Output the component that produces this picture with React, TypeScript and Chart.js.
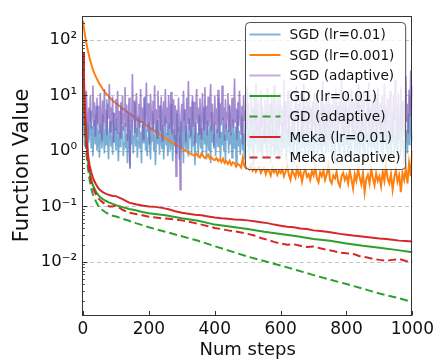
import React, { useEffect, useRef } from 'react';
import { Chart, registerables } from 'chart.js';

Chart.register(...registerables);

const FONT = '"DejaVu Sans", "Liberation Sans", sans-serif';

const seriesLabels = [
  'SGD (lr=0.01)',
  'SGD (lr=0.001)',
  'SGD (adaptive)',
  'GD (lr=0.01)',
  'GD (adaptive)',
  'Meka (lr=0.01)',
  'Meka (adaptive)',
];

// x positions (steps) for the smooth curves
const gdSteps = [0, 3, 6, 10, 15, 20, 25, 30, 40, 50, 60, 70, 80, 90, 100, 120, 140, 160, 180, 200, 250, 300, 350, 400, 450, 500, 550, 600, 650, 700, 750, 800, 850, 900, 950, 1000];
const mekaSteps = [0, 3, 6, 10, 15, 20, 25, 30, 35, 40, 45, 50, 60, 70, 80, 90, 100,
  120, 140, 160, 180, 200, 220, 240, 260, 280, 300, 320, 340, 360, 380, 400, 420, 440, 460, 480, 500,
  520, 540, 560, 580, 600, 620, 640, 660, 680, 700, 720, 740, 760, 780, 800, 820, 840, 860, 880, 900,
  920, 940, 960, 980, 1000];

// SGD (lr=0.01) — sampled evenly over 0..1000
const sgdLr1 = [
  7, 2.5, 1.2, 4, 1.6, 0.9, 3.2, 1.4, 2.2, 5.5, 1.1, 2.8, 0.8, 1.9, 3.6, 1.3, 6.5, 1.0, 2.4, 1.5,
  0.75, 3, 1.7, 1.1, 4.6, 2, 0.9, 2.6, 1.3, 8.5, 1.6, 0.7, 2.2, 3.4, 1.2, 1.8, 0.85, 5, 1.4, 2.5,
  1.0, 3.8, 1.5, 0.65, 2.1, 1.2, 6, 1.7, 2.8, 0.8, 1.4, 3.2, 1.1, 2, 0.6, 4.4, 1.6, 0.47, 2.4, 1.3,
  3.6, 0.9, 1.8, 7.5, 1.2, 2.6, 0.75, 1.5, 4, 1.1, 2.2, 0.6, 3, 1.4, 1.9, 9.5, 1.0, 2.4, 0.8, 1.7,
  3.3, 1.2, 0.7, 2.6, 1.5, 5.2, 1.0, 2, 0.55, 1.6, 3.6, 1.3, 2.3, 0.85, 6.6, 1.4, 1.1, 2.9, 0.7, 1.8,
  4.2, 1.3, 2.1, 0.8, 1.6, 3.1, 1.0, 7, 1.5, 0.65, 2.5, 1.2, 1.9, 0.9, 4.8, 1.4, 2.7, 0.7, 1.7, 3.4,
  1.1, 2.2, 0.6, 5.6, 1.5, 1.0, 2.9, 1.3, 0.8, 3.8, 1.7, 2.4, 0.9, 8, 1.2, 1.9, 0.55, 3.2, 1.4, 2.1,
  0.75, 4.4, 1.6, 1.1, 2.6, 0.85, 1.8, 6.2, 1.3, 2.3, 0.7, 3.5, 1.5, 1.0, 2.8, 0.6, 5, 1.4, 2, 1.1,
  3.2, 0.8, 1.7, 2.5, 1.2, 9, 1.5, 0.7, 2.2, 1.3, 4, 1.0, 1.9, 0.65, 3, 1.6, 2.4, 0.9, 6.4, 1.3,
  2.1, 0.75, 3.7, 1.4, 1.1, 2.7, 0.6, 1.8, 5.4, 1.2, 2.3, 0.85, 1.6, 4.2, 1.0, 2, 0.7, 3.3, 1.5, 7.2,
  1.2, 2.5, 0.8, 1.7, 3.9, 1.1, 2.2, 0.55, 1.5, 5.8, 1.3, 2.8, 0.9, 1.9, 3.2, 1.0, 8.4, 1.4, 0.7, 2.4,
  1.6, 4.6, 1.1, 2.1, 0.75, 3, 1.4, 1.8, 0.6, 6.8, 1.2, 2.6, 0.85, 1.7, 3.6, 1.0, 2.3, 0.7, 5.2, 1.5,
  2, 0.8, 1.3, 3.4, 1.1, 7.6, 1.6, 0.65, 2.5, 1.2, 4.4, 0.9, 1.9, 2.8, 1.0, 1.5, 0.6, 3.8, 1.4, 2.2,
  0.75, 5.6, 1.3, 2.4, 0.9, 1.7, 3.1, 1.1, 9.5, 1.5, 0.7, 2.1, 1.2, 4.2, 0.85, 1.8, 2.6, 1.0, 6, 1.4,
  1.9, 0.6, 3.3, 1.3, 2.2, 0.8, 1.6, 4.8, 1.1, 2.7, 0.7, 1.5, 7, 1.2, 2, 0.9, 3.6, 1.4, 1.0, 5.4,
  1.6, 2.3, 0.75, 1.8, 3.8, 1.1, 0.6, 2.5, 1.4, 6.4, 1.0, 2.1, 0.85, 1.5, 4, 1.2, 2.8, 0.7, 1.7, 8.2,
  1.3, 2.2, 0.8, 3.5, 1.1, 1.9, 0.65, 5, 1.5, 2.4, 0.9, 1.4, 3, 1.0, 7.4, 1.6, 0.7, 2.6, 1.2, 4.4,
  1.0, 1.8, 0.6, 3.2, 1.4, 2.1, 0.85, 5.8, 1.2, 2.5, 0.75, 1.6, 3.7, 1.1, 2, 0.9, 9, 1.3, 0.7, 2.3,
  1.5, 4.2, 1.0, 1.9, 0.6, 2.8, 1.3, 6.6, 1.1, 2.2, 0.8, 1.7, 3.4, 1.2, 0.65, 2.5, 1.4, 5.2, 0.9, 1.8,
  2.7, 1.1, 0.7, 3.9, 1.5, 2.1, 0.8, 7.8, 1.2, 1.6, 0.6, 3, 1.4, 2.4, 0.9, 4.6, 1.3, 10, 1.8, 2.2,
  1.5,
];

// SGD (lr=0.001) — sampled evenly over 0..1000
const sgdLr01 = [
  220, 130, 88, 63, 47, 36, 29, 24.5, 21, 18.5, 16, 14.5, 12.8, 11.8, 10.6, 10.1, 9.2, 8.7, 8.0, 7.6,
  7.1, 6.9, 6.4, 6.2, 5.7, 5.6, 5.1, 5.0, 4.6, 4.5, 4.3, 4.0, 3.9, 3.6, 3.5, 3.3, 3.3, 3.0, 2.9, 2.8,
  2.7, 2.5, 2.45, 2.3, 2.25, 2.1, 2.0, 1.95, 1.85, 1.75, 1.7, 1.6, 1.55, 1.5, 1.42, 1.38, 1.3, 1.28, 1.2, 1.15,
  1.12, 1.05, 1.02, 0.97, 0.92, 0.9, 0.86, 0.84, 0.8, 0.88, 0.82, 0.76, 0.9, 0.8, 0.74, 0.78, 0.85, 0.72, 0.76, 0.7,
  0.68, 0.74, 0.66, 0.7, 0.63, 0.72, 0.6, 0.65, 0.58, 0.66, 0.56, 0.62, 0.6, 0.52, 0.58, 0.55, 0.5, 0.75, 0.53, 0.48,
  0.5, 0.46, 0.55, 0.44, 0.5, 0.42, 0.48, 0.52, 0.4, 0.45, 0.5, 0.38, 0.47, 0.43, 0.36, 0.5, 0.41, 0.46, 0.37, 0.44,
  0.4, 0.48, 0.35, 0.42, 0.55, 0.37, 0.3, 0.45, 0.39, 0.33, 0.5, 0.36, 0.42, 0.28, 0.4, 0.46, 0.34, 0.38, 0.3, 0.43,
  0.36, 0.5, 0.32, 0.27, 0.41, 0.35, 0.45, 0.3, 0.38, 0.55, 0.3, 0.26, 0.36, 0.32, 0.42, 0.27, 0.23, 0.35, 0.4, 0.3,
  0.36, 0.26, 0.44, 0.31, 0.21, 0.38, 0.29, 0.46, 0.33, 0.25, 0.4, 0.18, 0.31, 0.37, 0.26, 0.48, 0.32, 0.24, 0.39, 0.29,
  0.35, 0.23, 0.42, 0.29, 0.55, 0.31, 0.26, 0.38, 0.2, 0.33, 0.45, 0.28, 0.36, 0.18, 0.4, 0.3, 0.47, 0.26, 0.6, 0.35, 1.0,
];

// SGD (adaptive) — sampled evenly over 0..1000
const sgdAdaptive = [
  9, 3, 7, 2.2, 12, 4, 1.6, 6, 3.4, 10, 2.5, 5, 15, 2.8, 7.5, 1.8, 4.5, 9, 3, 6.5,
  2, 11, 4, 1.5, 8, 3.2, 13, 2.6, 5.5, 1.9, 7, 3.8, 16, 2.2, 6, 3, 9.5, 1.4, 4.8, 2.4,
  8.5, 3.6, 12, 2, 5.2, 1.7, 7.5, 3, 10, 2.3, 4.6, 14, 2.7, 6.8, 1.5, 4, 9, 0.5, 5, 2.4,
  24, 3.5, 8, 2.1, 5.8, 11, 1.8, 4.2, 7, 2.6, 13, 3.3, 6, 1.6, 9, 2.9, 4.8, 17, 2.2, 7.2,
  3.6, 1.3, 10.5, 4.4, 2.4, 8, 3, 15, 2, 5.6, 1.7, 12, 3.8, 6.4, 2.3, 9.5, 1.5, 4.6, 7.8, 2.8,
  13, 3.2, 6, 1.9, 10, 2.5, 5, 11.5, 2, 4, 8.5, 1.6, 6.6, 0.35, 5.5, 2.2, 9, 3, 0.2, 4.2,
  7, 2.2, 12, 3.5, 5.5, 1.4, 9, 3, 18, 2.4, 6.2, 1.8, 4.5, 10, 2.7, 7.6, 1.3, 5, 13, 3.1,
  6, 2, 8.8, 3.7, 1.6, 11, 4.4, 2.4, 14, 3, 6.5, 1.9, 9.5, 2.8, 5.2, 16, 2.2, 7, 3.4, 1.2,
  10, 3, 5.8, 2.1, 12.5, 4.2, 1.7, 7.2, 2.9, 15, 3.6, 6, 1.5, 8.5, 2.5, 4.8, 11, 2.2, 6.8, 3.3,
  1.9, 9, 4, 2.6, 20, 3.2, 5.8, 1.6, 7.5, 2.8, 12, 4.5, 2, 6.4, 1.3, 10, 3.4, 5.2, 2.4, 14,
  3, 7.2, 1.8, 4.6, 11, 2.7, 6, 1.5, 9.2, 3.5, 17, 2.3, 5.4, 8, 1.9, 4.2, 12.5, 2.6, 6.6, 3.1,
  1.4, 8.4, 3.8, 2.2, 13.5, 4.6, 1.7, 7, 2.9, 10.5, 5, 2, 15, 3.4, 6.2, 1.6, 9, 2.5, 4.4, 11,
  2.8, 6.5, 1.5, 5.2, 19, 3, 7.8, 2.1, 4.3, 12, 1.8, 6, 3.6, 9.8, 2.3, 5.4, 1.2, 8.2, 3.2, 14.5,
  4.2, 2, 7, 3.6, 10.5, 1.7, 5.6, 2.6, 16, 3.2, 6.4, 1.9, 9, 4, 2.4, 12, 3, 5.8, 1.5, 7.6,
  2.7, 11, 4.6, 2, 6.8, 13, 2.9, 5, 1.6, 8.6, 3.5, 18, 2.4, 6, 1.8, 9.5, 4.2, 2.6, 12, 3.3,
  7, 1.6, 5.4, 2.8, 10, 4, 2.1, 14, 3.4, 6.4, 1.4, 8, 3, 5.2, 21, 2.5, 7.4, 1.9, 4.6, 11.5,
  3.1, 6.2, 1.7, 9, 2.6, 4.8, 13, 2.2, 7.6, 3.6, 1.5, 10.5, 4.4, 2.4, 15.5, 3, 6.6, 1.8, 8.4, 2.8,
  5.6, 12, 2.3, 4.2, 1.6, 9.4, 3.4, 17, 2.7, 6.2, 1.9, 8, 4.6, 2.2, 11, 3.2, 5, 1.4, 13.5, 3.8,
  2.5, 7.2, 1.8, 10, 4, 2.6, 16, 3.1, 6, 1.5, 8.8, 2.9, 5.6, 12, 2.2, 4.4, 1.7, 9.6, 3.6, 19,
  2.4, 6.8, 1.6, 11, 3.8, 2.2, 14, 4.6, 2.8, 8, 1.9, 5.4, 22, 3.3, 7, 2, 12.5, 4.2, 28, 6,
  15,
];

// GD (lr=0.01)
const gdLr = [40, 12, 4.2, 1.45, 0.66, 0.42, 0.3, 0.24, 0.18, 0.15, 0.135, 0.125, 0.117, 0.111, 0.105, 0.097, 0.09, 0.085, 0.079, 0.075,
  0.069, 0.061, 0.055, 0.047, 0.043, 0.039, 0.035, 0.032, 0.029, 0.026, 0.024, 0.0215, 0.0195, 0.018, 0.0165, 0.015];

// GD (adaptive)
const gdAdaptive = [30, 6.5, 2.2, 0.9, 0.5, 0.3, 0.21, 0.165, 0.12, 0.094, 0.085, 0.077, 0.071, 0.068, 0.066, 0.06, 0.055, 0.05, 0.046, 0.042,
  0.035, 0.029, 0.024, 0.0192, 0.0155, 0.0125, 0.0104, 0.0086, 0.0071, 0.0058, 0.0048, 0.004, 0.0033, 0.0027, 0.0023, 0.0019];

// Meka (lr=0.01)
const mekaLr = [60, 20, 5.5, 1.8, 0.85, 0.55, 0.41, 0.33, 0.28, 0.245, 0.22, 0.2, 0.18, 0.168, 0.16, 0.154, 0.153,
  0.135, 0.117, 0.109, 0.104, 0.1, 0.098, 0.094, 0.089, 0.082, 0.077, 0.074, 0.071, 0.069, 0.066, 0.063, 0.061, 0.06, 0.058, 0.0575, 0.056,
  0.054, 0.052, 0.05, 0.047, 0.045, 0.043, 0.042, 0.04, 0.039, 0.037, 0.036, 0.035, 0.0335, 0.032, 0.031, 0.0298, 0.029, 0.028, 0.0272, 0.0264,
  0.0258, 0.025, 0.0242, 0.0238, 0.0234];

// Meka (adaptive)
const mekaAdaptive = [50, 14, 4, 1.3, 0.62, 0.38, 0.28, 0.22, 0.185, 0.162, 0.146, 0.132, 0.118, 0.107, 0.1, 0.1, 0.104,
  0.087, 0.077, 0.073, 0.069, 0.065, 0.063, 0.061, 0.06, 0.058, 0.056, 0.053, 0.05, 0.047, 0.044, 0.041, 0.039, 0.037, 0.0355, 0.034, 0.032,
  0.03, 0.027, 0.025, 0.023, 0.0215, 0.0205, 0.0208, 0.0195, 0.0186, 0.019, 0.0176, 0.0166, 0.0157, 0.0148, 0.0143, 0.014, 0.0127, 0.0121, 0.0114, 0.0109,
  0.0105, 0.0109, 0.0113, 0.0104, 0.0102];

const xTicks = [0, 200, 400, 600, 800, 1000];
const yTickValues = [0.01, 0.1, 1, 10, 100];
const yTickLabels = ['10\u207B\u00B2', '10\u207B\u00B9', '10\u2070', '10\u00B9', '10\u00B2'];
const Y_MIN = 0.00111;
const Y_MAX = 268;
const X_MAX = 1000;

const seriesColors = [
  'rgba(31,119,180,0.6)',
  '#ff7f0e',
  'rgba(130,95,190,0.72)',
  '#2ca02c',
  '#2ca02c',
  '#d62728',
  '#d62728',
];
const legendColors = [
  'rgba(31,119,180,0.55)',
  '#ff7f0e',
  'rgba(148,103,189,0.55)',
  '#2ca02c',
  '#2ca02c',
  '#d62728',
  '#d62728',
];
const seriesDash: number[][] = [[], [], [], [], [8, 4], [], [8, 4]];
const seriesWidth = [1.6, 2, 1.6, 2, 2, 2, 2];

const pts = (xs: number[], ys: number[]) => ys.map((y, i) => ({ x: xs[i], y }));
const evenPts = (ys: number[]) => ys.map((y, i) => ({ x: (i * X_MAX) / (ys.length - 1), y }));

const decorPlugin = {
  id: 'decor',
  beforeDatasetsDraw(chart: any) {
    const { ctx, chartArea: a, scales } = chart;
    const y = scales.y;
    ctx.save();
    ctx.strokeStyle = '#c4c4c4';
    ctx.lineWidth = 1;
    ctx.setLineDash([4, 3]);
    yTickValues.forEach((v) => {
      const py = Math.round(y.getPixelForValue(v)) + 0.5;
      ctx.beginPath();
      ctx.moveTo(a.left, py);
      ctx.lineTo(a.right, py);
      ctx.stroke();
    });
    ctx.restore();
  },
  afterDatasetsDraw(chart: any) {
    const { ctx, chartArea: a, scales } = chart;
    const x = scales.x;
    const y = scales.y;
    ctx.save();
    ctx.strokeStyle = '#333';
    ctx.lineWidth = 1;
    ctx.setLineDash([]);
    const L = Math.round(a.left) - 0.5;
    const R = Math.round(a.right) - 0.5;
    const T = Math.round(a.top) + 0.5;
    const B = Math.round(a.bottom) + 0.5;
    ctx.strokeRect(L, T, R - L, B - T);
    ctx.beginPath();
    yTickValues.forEach((v) => {
      const py = Math.round(y.getPixelForValue(v)) + 0.5;
      ctx.moveTo(L, py);
      ctx.lineTo(L + 5, py);
    });
    xTicks.forEach((v) => {
      const px = Math.round(x.getPixelForValue(v)) + 0.5;
      ctx.moveTo(px, B);
      ctx.lineTo(px, B - 4.5);
    });
    ctx.stroke();
    ctx.lineWidth = 0.8;
    ctx.beginPath();
    for (let e = -4; e <= 3; e++) {
      for (let m = 2; m <= 9; m++) {
        const v = m * Math.pow(10, e);
        if (v < Y_MIN || v > Y_MAX) continue;
        const py = Math.round(y.getPixelForValue(v)) + 0.5;
        ctx.moveTo(L, py);
        ctx.lineTo(L + 2.5, py);
      }
    }
    ctx.stroke();

    // legend
    ctx.font = `13.7px ${FONT}`;
    const maxW = Math.max(...seriesLabels.map((s) => ctx.measureText(s).width));
    const padL = 4, handle = 31, gap = 9, padR = 5;
    const boxW = padL + handle + gap + maxW + padR;
    const rowH = 20.5;
    const boxH = 12 + rowH * (seriesLabels.length - 1) + 12;
    const bx = Math.round(a.right - 7 - boxW) + 0.5;
    const by = Math.round(a.top + 6) + 0.5;
    ctx.beginPath();
    (ctx as any).roundRect(bx, by, boxW, boxH, 4);
    ctx.fillStyle = 'rgba(255,255,255,0.8)';
    ctx.fill();
    ctx.strokeStyle = 'rgba(50,50,50,0.85)';
    ctx.lineWidth = 1;
    ctx.stroke();
    seriesLabels.forEach((lab, i) => {
      const cy = by + 12 + i * rowH;
      ctx.beginPath();
      ctx.strokeStyle = legendColors[i];
      ctx.lineWidth = 2;
      ctx.setLineDash(seriesDash[i].length ? [8, 5] : []);
      ctx.moveTo(bx + padL, cy);
      ctx.lineTo(bx + padL + handle, cy);
      ctx.stroke();
      ctx.setLineDash([]);
      ctx.fillStyle = '#111';
      ctx.textBaseline = 'middle';
      ctx.textAlign = 'left';
      ctx.fillText(lab, bx + padL + handle + gap, cy + 1);
    });
    ctx.restore();
  },
};

export default function App() {
  const canvasRef = useRef<HTMLCanvasElement | null>(null);

  useEffect(() => {
    document.body.style.margin = '0';
    const canvas = canvasRef.current;
    if (!canvas) return;
    const seriesData = [
      evenPts(sgdLr1),
      evenPts(sgdLr01),
      evenPts(sgdAdaptive),
      pts(gdSteps, gdLr),
      pts(gdSteps, gdAdaptive),
      pts(mekaSteps, mekaLr),
      pts(mekaSteps, mekaAdaptive),
    ];
    const chart = new Chart(canvas, {
      type: 'line',
      data: {
        datasets: seriesLabels.map((label, i) => ({
          label,
          data: seriesData[i],
          borderColor: seriesColors[i],
          backgroundColor: seriesColors[i],
          borderWidth: seriesWidth[i],
          borderDash: seriesDash[i],
          pointRadius: 0,
          fill: false,
          tension: 0,
          order: seriesLabels.length - 1 - i,
        })),
      },
      options: {
        animation: false,
        responsive: false,
        maintainAspectRatio: false,
        layout: { padding: { top: 10, right: 24, left: 0, bottom: 0 } },
        plugins: {
          legend: { display: false },
          tooltip: { enabled: false },
        },
        scales: {
          x: {
            type: 'linear',
            min: 0,
            max: X_MAX,
            afterBuildTicks: (s: any) => {
              s.ticks = xTicks.map((v) => ({ value: v }));
            },
            afterFit: (s: any) => {
              s.height = 44;
            },
            ticks: {
              font: { family: FONT, size: 17 },
              color: '#111',
              padding: 4,
              maxRotation: 0,
              autoSkip: false,
              callback: (v: any) => String(v),
            },
            grid: { display: false, drawTicks: false },
            border: { display: false },
            title: {
              display: true,
              text: 'Num steps',
              font: { family: FONT, size: 18, lineHeight: 1 },
              color: '#111',
              padding: { top: 0, bottom: 0 },
            },
          },
          y: {
            type: 'logarithmic',
            min: Y_MIN,
            max: Y_MAX,
            afterBuildTicks: (s: any) => {
              s.ticks = yTickValues.map((v) => ({ value: v }));
            },
            afterFit: (s: any) => {
              s.width = 83;
            },
            ticks: {
              font: { family: FONT, size: 16.5 },
              color: '#111',
              padding: 6,
              autoSkip: false,
              callback: (v: any) => {
                const i = yTickValues.indexOf(Number(v));
                return i >= 0 ? yTickLabels[i] : '';
              },
            },
            grid: { display: false, drawTicks: false },
            border: { display: false },
            title: {
              display: true,
              text: 'Function Value',
              font: { family: FONT, size: 21, lineHeight: 1 },
              color: '#111',
              padding: { top: 12, bottom: 0 },
            },
          },
        },
      },
      plugins: [decorPlugin],
    });
    return () => chart.destroy();
  }, []);

  return (
    <div style={{ width: 438, height: 359, position: 'relative' }}>
      <canvas ref={canvasRef} width={438} height={359} style={{ display: 'block' }} />
    </div>
  );
}
